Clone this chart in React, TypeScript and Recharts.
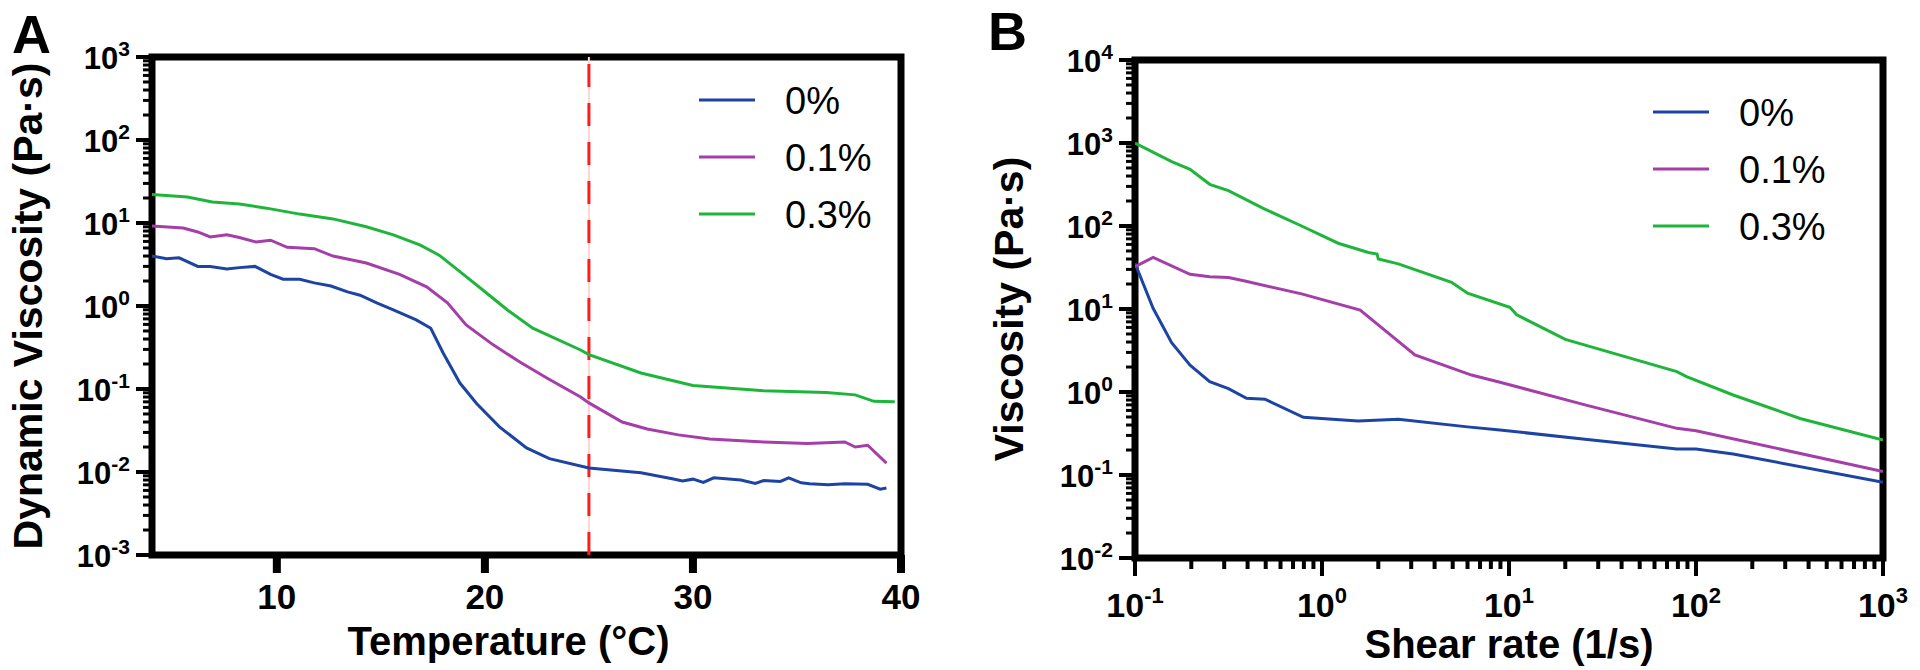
import {
  Legend,
  Line,
  LineChart,
  ReferenceArea,
  ReferenceLine,
  XAxis,
  YAxis,
} from "recharts";

const FONT = '"Liberation Sans", Arial, Helvetica, sans-serif';

const seriesNames = ["0%", "0.1%", "0.3%"];
const seriesColors = ["#1d44a3", "#a53ea9", "#1fb53b"];

// Panel A: dynamic viscosity vs temperature
const tempA0 = [4, 4.7, 5.3, 6.2, 6.8, 7.6, 8.2, 8.95, 9.7, 10.3, 11.1, 11.8, 12.6, 13.4, 14, 14.8, 15.6, 16.7, 17.4, 18, 18.8, 19.6, 20.7, 22, 23.1, 25, 27.5, 29, 29.5, 30, 30.5, 31, 32.3, 33, 33.4, 34.2, 34.6, 35.2, 35.6, 36.5, 37.3, 38.4, 39, 39.3];
const viscA0 = [4.0, 3.7, 3.8, 3.0, 3.0, 2.8, 2.9, 3.0, 2.4, 2.1, 2.1, 1.9, 1.74, 1.48, 1.35, 1.09, 0.9, 0.68, 0.54, 0.27, 0.118, 0.067, 0.035, 0.0195, 0.0145, 0.0112, 0.0098, 0.0083, 0.0078, 0.0082, 0.0075, 0.0085, 0.008, 0.0073, 0.0079, 0.0077, 0.0085, 0.0074, 0.0072, 0.007, 0.0072, 0.0071, 0.0062, 0.0064];

const tempA1 = [4, 5.5, 6.2, 6.8, 7.6, 8.2, 9, 9.7, 10.5, 11.8, 12.7, 14.3, 15.9, 17.2, 18.2, 19.1, 20.4, 21.7, 23, 24.6, 25, 26.6, 27.8, 29.3, 30.8, 33.4, 35.5, 37.3, 37.8, 38.4, 39.3];
const viscA1 = [9.2, 8.7, 7.8, 6.8, 7.2, 6.7, 5.9, 6.2, 5.1, 4.9, 4.0, 3.3, 2.4, 1.7, 1.09, 0.59, 0.34, 0.21, 0.135, 0.08, 0.068, 0.04, 0.033, 0.028, 0.025, 0.023, 0.022, 0.023, 0.02, 0.021, 0.0128];

const tempA3 = [4, 5.7, 6.9, 8.2, 9.5, 11.1, 12.7, 14.3, 15.6, 16.9, 17.8, 18.8, 19.9, 21.1, 22.3, 24.6, 25, 27.5, 30, 33.4, 36.4, 37.8, 38.7, 39.7];
const viscA3 = [22, 20.6, 17.9, 16.9, 15.1, 12.8, 11.2, 9.0, 7.2, 5.4, 4.1, 2.6, 1.56, 0.89, 0.54, 0.295, 0.26, 0.156, 0.11, 0.095, 0.091, 0.085, 0.071, 0.07];

// Panel B: viscosity vs shear rate
const rateB0 = [0.1, 0.125, 0.157, 0.197, 0.251, 0.316, 0.395, 0.495, 0.795, 1.56, 2.56, 6, 8.95, 25.5, 79, 100, 158, 1000];
const viscB0 = [35.5, 10.2, 3.93, 2.11, 1.33, 1.1, 0.84, 0.82, 0.495, 0.447, 0.47, 0.38, 0.348, 0.27, 0.206, 0.205, 0.179, 0.082];

const rateB1 = [0.1, 0.125, 0.197, 0.251, 0.316, 0.387, 0.778, 1.6, 3.14, 6.3, 8.95, 25.5, 79, 100, 1000];
const viscB1 = [32.4, 41.9, 26.2, 24.5, 24, 21.7, 15.2, 9.7, 2.8, 1.6, 1.31, 0.7, 0.365, 0.342, 0.11];

const rateB3 = [0.1, 0.157, 0.197, 0.251, 0.316, 0.485, 0.778, 1.22, 1.77, 1.97, 2.0, 2.56, 4.93, 6.0, 10.1, 11, 20, 79, 89, 158, 360, 1000];
const viscB3 = [1000, 596, 482, 318, 267, 163, 100, 62, 48, 46, 40, 35, 21, 15.5, 10.5, 8.5, 4.3, 1.76, 1.53, 0.92, 0.48, 0.264];

const tempTicks = [10, 20, 30, 40];
const decadesA = [-3, -2, -1, 0, 1, 2, 3];
const decadesB = [-2, -1, 0, 1, 2, 3, 4];
const decadesRate = [-1, 0, 1, 2, 3];

const pairs = (xs: number[], ys: number[]) => xs.map((t, i) => ({ t, v: ys[i] }));
const seriesA = [pairs(tempA0, viscA0), pairs(tempA1, viscA1), pairs(tempA3, viscA3)];
const seriesB = [pairs(rateB0, viscB0), pairs(rateB1, viscB1), pairs(rateB3, viscB3)];

function withMinors(decades: number[]) {
  const out: number[] = [];
  decades.forEach((d, i) => {
    out.push(Math.pow(10, d));
    if (i < decades.length - 1) {
      for (let m = 2; m <= 9; m++) out.push(m * Math.pow(10, d));
    }
  });
  return out;
}

function exponentOf(v: number) {
  const lg = Math.log10(v);
  const e = Math.round(lg);
  return { e, major: Math.abs(lg - e) < 1e-6 };
}

function LogYTick(props: any) {
  const { x, y, payload } = props;
  const { e, major } = exponentOf(payload.value);
  return (
    <g>
      <line x1={x} x2={x - (major ? 16 : 9)} y1={y} y2={y} stroke="#000" strokeWidth={major ? 4 : 3} />
      {major && (
        <text x={x - 22} y={y + 12} textAnchor="end" fontFamily={FONT} fontWeight="bold" fontSize={31} fill="#000">
          <tspan>10</tspan>
          <tspan dy={-13} fontSize={21}>{e}</tspan>
        </text>
      )}
    </g>
  );
}

function LogXTick(props: any) {
  const { x, y, payload } = props;
  const { e, major } = exponentOf(payload.value);
  return (
    <g>
      <line x1={x} x2={x} y1={y} y2={y + (major ? 18 : 11)} stroke="#000" strokeWidth={4} />
      {major && (
        <text x={x} y={y + 59} textAnchor="middle" fontFamily={FONT} fontWeight="bold" fontSize={34} fill="#000">
          <tspan>10</tspan>
          <tspan dy={-14} fontSize={22}>{e}</tspan>
        </text>
      )}
    </g>
  );
}

function TempTick(props: any) {
  const { x, y, payload } = props;
  return (
    <g>
      <line x1={x} x2={x} y1={y} y2={y + 18} stroke="#000" strokeWidth={8} />
      <text x={x} y={y + 54} textAnchor="middle" fontFamily={FONT} fontWeight="bold" fontSize={35} fill="#000">
        {payload.value}
      </text>
    </g>
  );
}

const yTitle = (text: string, dx: number) => (props: any) => {
  const vb = props.viewBox || { x: 0, y: 57, width: 152, height: 498 };
  const cx = vb.x + dx;
  const cy = vb.y + vb.height / 2;
  return (
    <text x={cx} y={cy} transform={`rotate(-90 ${cx} ${cy})`} textAnchor="middle" dominantBaseline="central" fontFamily={FONT} fontWeight="bold" fontSize={41} fill="#000">
      {text}
    </text>
  );
};

const xTitle = (text: string, dx: number) => (props: any) => {
  const vb = props.viewBox || { x: 152, y: 555, width: 749, height: 115 };
  return (
    <text x={vb.x + vb.width / 2 + dx} y={vb.y + 100} textAnchor="middle" fontFamily={FONT} fontWeight="bold" fontSize={40} fill="#000">
      {text}
    </text>
  );
};

function SeriesLegend(props: any) {
  const { payload } = props;
  return (
    <svg width={240} height={180} style={{ display: "block" }}>
      {(payload || []).map((p: any, i: number) => (
        <g key={p.value}>
          <line x1={0} x2={56} y1={30 + i * 57} y2={30 + i * 57} stroke={p.color} strokeWidth={3} />
          <text x={86} y={30 + i * 57 + 14} fontFamily={FONT} fontSize={38} fill="#000">
            {p.value}
          </text>
        </g>
      ))}
    </svg>
  );
}

function PanelLetter({ text, left, top }: { text: string; left: number; top: number }) {
  return (
    <div style={{ position: "absolute", left, top, fontFamily: FONT, fontWeight: "bold", fontSize: 54, lineHeight: "54px" }}>
      {text}
    </div>
  );
}

export default function App() {
  return (
    <div style={{ position: "absolute", left: 0, top: 0, width: 1920, height: 670, background: "#fff", overflow: "hidden" }}>
      <div style={{ position: "absolute", left: 0, top: 0 }}>
        <LineChart width={960} height={670} margin={{ top: 57, right: 59, bottom: 0, left: 0 }}>
          <XAxis
            type="number"
            dataKey="t"
            domain={[4, 40]}
            ticks={tempTicks}
            interval={0}
            height={115}
            tickSize={0}
            tickMargin={0}
            tickLine={false}
            axisLine={false}
            tick={(p: any) => <TempTick {...p} />}
            label={xTitle("Temperature (°C)", -18)}
            allowDataOverflow
          />
          <YAxis
            type="number"
            scale="log"
            domain={[0.001, 1000]}
            ticks={withMinors(decadesA)}
            interval={0}
            width={152}
            tickSize={0}
            tickMargin={0}
            tickLine={false}
            axisLine={false}
            tick={(p: any) => <LogYTick {...p} />}
            label={yTitle("Dynamic Viscosity (Pa·s)", 28)}
            allowDataOverflow
          />
          <ReferenceLine x={25} stroke="#ffd4d4" strokeWidth={2} />
          <ReferenceLine x={25} stroke="#ff1c1c" strokeWidth={3} strokeDasharray="23 16" />
          {seriesA.map((d, i) => (
            <Line
              key={seriesNames[i]}
              data={d}
              dataKey="v"
              name={seriesNames[i]}
              type="linear"
              stroke={seriesColors[i]}
              strokeWidth={3}
              dot={false}
              isAnimationActive={false}
            />
          ))}
          <ReferenceArea x1={4} x2={40} y1={0.001} y2={1000} fill="none" stroke="#000" strokeWidth={7} ifOverflow="visible" />
          <Legend
            layout="vertical"
            align="center"
            verticalAlign="middle"
            content={(p: any) => <SeriesLegend {...p} />}
            wrapperStyle={{ left: 699, top: 70, width: 240 }}
          />
        </LineChart>
      </div>
      <div style={{ position: "absolute", left: 960, top: 0 }}>
        <LineChart width={960} height={670} margin={{ top: 60, right: 37, bottom: 0, left: 0 }}>
          <XAxis
            type="number"
            dataKey="t"
            scale="log"
            domain={[0.1, 1000]}
            ticks={withMinors(decadesRate)}
            interval={0}
            height={112}
            tickSize={0}
            tickMargin={0}
            tickLine={false}
            axisLine={false}
            tick={(p: any) => <LogXTick {...p} />}
            label={xTitle("Shear rate (1/s)", 0)}
            allowDataOverflow
          />
          <YAxis
            type="number"
            scale="log"
            domain={[0.01, 10000]}
            ticks={withMinors(decadesB)}
            interval={0}
            width={175}
            tickSize={0}
            tickMargin={0}
            tickLine={false}
            axisLine={false}
            tick={(p: any) => <LogYTick {...p} />}
            label={yTitle("Viscosity (Pa·s)", 49)}
            allowDataOverflow
          />
          {seriesB.map((d, i) => (
            <Line
              key={seriesNames[i]}
              data={d}
              dataKey="v"
              name={seriesNames[i]}
              type="linear"
              stroke={seriesColors[i]}
              strokeWidth={3}
              dot={false}
              isAnimationActive={false}
            />
          ))}
          <ReferenceArea x1={0.1} x2={1000} y1={0.01} y2={10000} fill="none" stroke="#000" strokeWidth={7} ifOverflow="visible" />
          <Legend
            layout="vertical"
            align="center"
            verticalAlign="middle"
            content={(p: any) => <SeriesLegend {...p} />}
            wrapperStyle={{ left: 693, top: 82, width: 240 }}
          />
        </LineChart>
      </div>
      <PanelLetter text="A" left={12} top={7} />
      <PanelLetter text="B" left={988} top={4} />
    </div>
  );
}
